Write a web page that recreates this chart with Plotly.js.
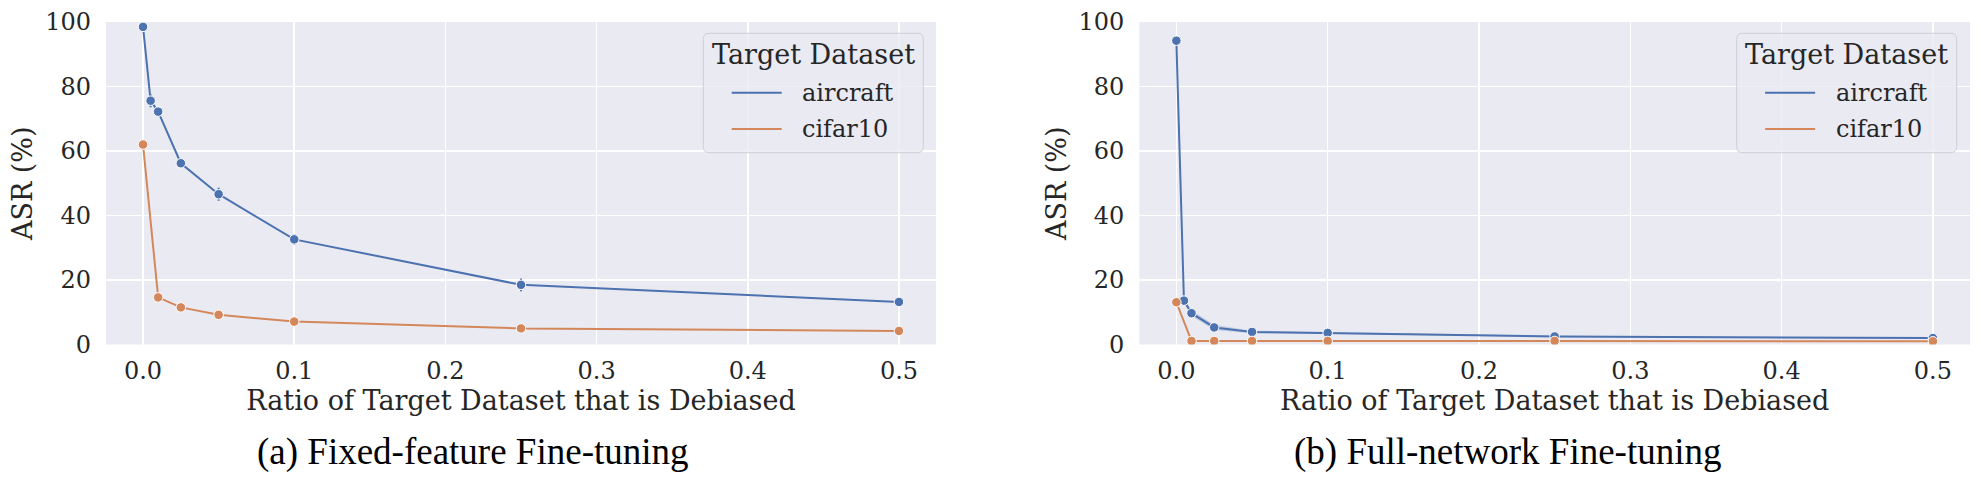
<!DOCTYPE html>
<html>
<head>
<meta charset="utf-8">
<script src="https://cdn.plot.ly/plotly-3.0.1.min.js"></script>
<style>html,body{margin:0;padding:0;background:#fff;}#chart{width:1981px;height:502px;}</style>
</head>
<body>
<div id="chart"></div>
<script>
// ---- data ----
const seriesNames = ["aircraft", "cifar10"];
const ratioAircraft = [0, 0.005, 0.01, 0.025, 0.05, 0.1, 0.25, 0.5];
const ratioCifar = [0, 0.01, 0.025, 0.05, 0.1, 0.25, 0.5];

// (a) Fixed-feature fine-tuning
const asrFixedAircraft = [98.5, 75.6, 72.2, 56.2, 46.6, 32.6, 18.5, 13.2];
const errFixedAircraft = [0.3, 2.0, 0.8, 0.8, 2.0, 1.7, 2.0, 0.5];
const asrFixedCifar = [62.0, 14.6, 11.5, 9.2, 7.1, 5.0, 4.2];

// (b) Full-network fine-tuning
const asrFullAircraft = [94.2, 13.6, 9.7, 5.3, 3.9, 3.6, 2.5, 2.0];
const bandFullAircraftLow = [93.9, 13.1, 8.8, 4.5, 3.5, 3.3, 2.3, 1.8];
const bandFullAircraftHigh = [94.5, 14.1, 10.6, 6.1, 4.3, 3.9, 2.7, 2.2];
const asrFullCifar = [13.1, 1.1, 1.1, 1.1, 1.1, 1.1, 1.0];

const xTickVals = [0, 0.1, 0.2, 0.3, 0.4, 0.5];
const xTickText = ["0.0", "0.1", "0.2", "0.3", "0.4", "0.5"];
const yTickVals = [0, 20, 40, 60, 80, 100];
const captions = ["(a) Fixed-feature Fine-tuning", "(b) Full-network Fine-tuning"];
const xTitle = "Ratio of Target Dataset that is Debiased";
const yTitle = "ASR (%)";
const legendTitle = "Target Dataset";

// ---- style ----
const BLUE = "#4C72B0", ORANGE = "#D3875A";
const COLORS = [BLUE, ORANGE];
const TXT = "#262626";
const SERIF = "'DejaVu Serif', serif";
const TIMES = "'Liberation Serif', 'Times New Roman', serif";

function lineTrace(name, x, y, color, xa, ya, extra) {
  return Object.assign({
    type: "scatter", mode: "lines+markers", name: name, x: x, y: y, xaxis: xa, yaxis: ya,
    line: {color: color, width: 2},
    marker: {color: color, size: 9.5, line: {color: "#ffffff", width: 1}},
    showlegend: false, hoverinfo: "name+x+y"
  }, extra || {});
}

const traces = [
  lineTrace(seriesNames[0], ratioAircraft, asrFixedAircraft, BLUE, "x", "y", {
    error_y: {type: "data", array: errFixedAircraft, visible: true, color: BLUE, thickness: 2, width: 0}
  }),
  lineTrace(seriesNames[1], ratioCifar, asrFixedCifar, ORANGE, "x", "y"),
  // confidence band for (b) aircraft
  {type: "scatter", mode: "lines", x: ratioAircraft, y: bandFullAircraftLow, xaxis: "x2", yaxis: "y2",
    line: {width: 0, color: BLUE}, showlegend: false, hoverinfo: "skip"},
  {type: "scatter", mode: "lines", x: ratioAircraft, y: bandFullAircraftHigh, xaxis: "x2", yaxis: "y2",
    line: {width: 0, color: BLUE}, fill: "tonexty", fillcolor: "rgba(76,114,176,0.25)",
    showlegend: false, hoverinfo: "skip"},
  lineTrace(seriesNames[0], ratioAircraft, asrFullAircraft, BLUE, "x2", "y2"),
  lineTrace(seriesNames[1], ratioCifar, asrFullCifar, ORANGE, "x2", "y2")
];

const W = 1981, H = 502;
const px = v => v / W, py = v => 1 - v / H;
const yDom = [py(344.5), py(22)];

function xAxis(domain, anchor) {
  return {
    domain: domain, anchor: anchor, range: [-0.0245, 0.5245],
    tickvals: xTickVals, ticktext: xTickText, ticks: "", ticklabelstandoff: 9,
    showgrid: true, gridcolor: "#ffffff", gridwidth: 1.5, zeroline: false, showline: false,
    tickfont: {family: SERIF, size: 24, color: TXT},
    title: {text: xTitle, font: {family: SERIF, size: 27, color: TXT}, standoff: 7}
  };
}
function yAxis(domain, anchor) {
  return {
    domain: domain, anchor: anchor, range: [0, 100],
    tickvals: yTickVals, ticks: "", ticklabelstandoff: 14,
    showgrid: true, gridcolor: "#ffffff", gridwidth: 1.5, zeroline: false, showline: false,
    tickfont: {family: SERIF, size: 24, color: TXT},
    title: {text: yTitle, font: {family: SERIF, size: 27, color: TXT}, standoff: 4}
  };
}

// legend box (seaborn style) drawn as shapes + annotations
const shapes = [], annotations = [];
function roundRectPath(x0, y0, x1, y1, r) {
  const rx = r / W, ry = r / H;
  const X0 = px(x0), X1 = px(x1), Y0 = py(y0), Y1 = py(y1); // Y0 top, Y1 bottom
  return `M${X0 + rx},${Y0} L${X1 - rx},${Y0} Q${X1},${Y0} ${X1},${Y0 - ry} ` +
         `L${X1},${Y1 + ry} Q${X1},${Y1} ${X1 - rx},${Y1} L${X0 + rx},${Y1} ` +
         `Q${X0},${Y1} ${X0},${Y1 + ry} L${X0},${Y0 - ry} Q${X0},${Y0} ${X0 + rx},${Y0} Z`;
}
function addLegend(left) {
  const right = left + 220, top = 33.3, bottom = 152.7;
  shapes.push({type: "path", xref: "paper", yref: "paper", layer: "above",
    path: roundRectPath(left, top, right, bottom, 6),
    fillcolor: "rgba(234,234,242,0.8)", line: {color: "rgba(204,204,212,0.9)", width: 1}});
  annotations.push({text: legendTitle, xref: "paper", yref: "paper",
    x: px((left + right) / 2), y: py(54), xanchor: "center", yanchor: "middle", showarrow: false,
    font: {family: SERIF, size: 27, color: TXT}});
  const rowY = [92.7, 129];
  seriesNames.forEach((name, i) => {
    shapes.push({type: "line", xref: "paper", yref: "paper", layer: "above",
      x0: px(left + 28.4), x1: px(left + 78.4), y0: py(rowY[i]), y1: py(rowY[i]),
      line: {color: COLORS[i], width: 2}});
    annotations.push({text: name, xref: "paper", yref: "paper",
      x: px(left + 97), y: py(rowY[i]), xanchor: "left", yanchor: "middle", showarrow: false,
      font: {family: SERIF, size: 24, color: TXT}});
  });
}
addLegend(703.3);
addLegend(1736.7);

annotations.push(
  {text: captions[0], xref: "paper", yref: "paper", x: px(473), y: py(451.5),
    xanchor: "center", yanchor: "middle", showarrow: false,
    font: {family: TIMES, size: 37, color: "#000000"}},
  {text: captions[1], xref: "paper", yref: "paper", x: px(1508), y: py(451.5),
    xanchor: "center", yanchor: "middle", showarrow: false,
    font: {family: TIMES, size: 37, color: "#000000"}}
);

const layout = {
  width: W, height: H,
  margin: {l: 0, r: 0, t: 0, b: 0, pad: 0},
  paper_bgcolor: "#ffffff", plot_bgcolor: "#EAEAF2",
  xaxis: xAxis([px(106), px(936)], "y"),
  yaxis: yAxis(yDom, "x"),
  xaxis2: xAxis([px(1139.3), px(1970)], "y2"),
  yaxis2: yAxis(yDom, "x2"),
  shapes: shapes,
  annotations: annotations,
  showlegend: false
};

Plotly.newPlot("chart", traces, layout, {displayModeBar: false, staticPlot: true});
</script>
</body>
</html>
